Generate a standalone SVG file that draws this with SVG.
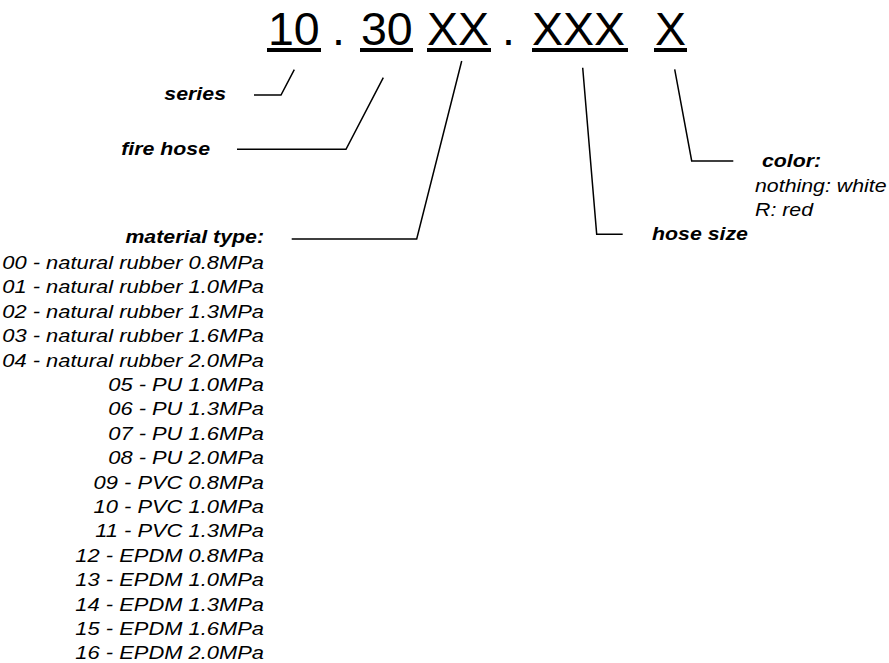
<svg xmlns="http://www.w3.org/2000/svg" width="889" height="663" viewBox="0 0 889 663">
<style>
text{font-family:"Liberation Sans",Arial,Helvetica,sans-serif;fill:#000}
.code{font-size:46.5px}
.lbl{font-size:18.3px;font-weight:bold;font-style:italic}
.it{font-size:18.3px;font-style:italic}
.li{font-size:18.8px;font-style:italic}
.ul{fill:#000}
.conn{fill:none;stroke:#000;stroke-width:1.5}
</style>
<rect width="889" height="663" fill="#fff"/>
<g id="code">
<text class="code" x="268" y="45">10</text>
<rect class="ul" x="267" y="48" width="54" height="4"/>
<text class="code" x="332" y="45">.</text>
<text class="code" x="361" y="45">30</text>
<rect class="ul" x="360" y="48" width="53" height="4"/>
<text class="code" x="427" y="45">XX</text>
<rect class="ul" x="427" y="48" width="64" height="4"/>
<text class="code" x="502" y="45">.</text>
<text class="code" x="532" y="45">XXX</text>
<rect class="ul" x="532" y="48" width="96" height="4"/>
<text class="code" x="655" y="45">X</text>
<rect class="ul" x="654" y="48" width="33" height="4"/>
</g>
<g id="connectors">
<path class="conn" d="M294.3,69.7 L281,95 L254,95"/>
<path class="conn" d="M383.3,77.7 L346,149.3 L237,149.3"/>
<path class="conn" d="M461.7,61 L416.7,239 L291.7,239"/>
<path class="conn" d="M582.7,67.7 L596.7,234.3 L622.7,234.3"/>
<path class="conn" d="M674.7,69.3 L691.7,161 L733.3,161"/>
</g>
<g id="series" transform="translate(226 0) scale(1.165 1)">
<text class="lbl" x="0" y="100" text-anchor="end">series</text>
</g>
<g id="fire-hose" transform="translate(210 0) scale(1.165 1)">
<text class="lbl" x="0" y="155" text-anchor="end">fire hose</text>
</g>
<g id="material-type" transform="translate(264 0) scale(1.165 1)">
<text class="lbl" x="0" y="243" text-anchor="end">material type:</text>
<text class="li" x="0" y="269" text-anchor="end">00 - natural rubber 0.8MPa</text>
<text class="li" x="0" y="293.4" text-anchor="end">01 - natural rubber 1.0MPa</text>
<text class="li" x="0" y="317.8" text-anchor="end">02 - natural rubber 1.3MPa</text>
<text class="li" x="0" y="342.2" text-anchor="end">03 - natural rubber 1.6MPa</text>
<text class="li" x="0" y="366.6" text-anchor="end">04 - natural rubber 2.0MPa</text>
<text class="li" x="0" y="391" text-anchor="end">05 - PU 1.0MPa</text>
<text class="li" x="0" y="415.4" text-anchor="end">06 - PU 1.3MPa</text>
<text class="li" x="0" y="439.8" text-anchor="end">07 - PU 1.6MPa</text>
<text class="li" x="0" y="464.2" text-anchor="end">08 - PU 2.0MPa</text>
<text class="li" x="0" y="488.6" text-anchor="end">09 - PVC 0.8MPa</text>
<text class="li" x="0" y="513" text-anchor="end">10 - PVC 1.0MPa</text>
<text class="li" x="0" y="537.4" text-anchor="end">11 - PVC 1.3MPa</text>
<text class="li" x="0" y="561.8" text-anchor="end">12 - EPDM 0.8MPa</text>
<text class="li" x="0" y="586.2" text-anchor="end">13 - EPDM 1.0MPa</text>
<text class="li" x="0" y="610.6" text-anchor="end">14 - EPDM 1.3MPa</text>
<text class="li" x="0" y="635" text-anchor="end">15 - EPDM 1.6MPa</text>
<text class="li" x="0" y="659.4" text-anchor="end">16 - EPDM 2.0MPa</text>
</g>
<g id="hose-size" transform="translate(652 0) scale(1.165 1)">
<text class="lbl" x="0" y="240">hose size</text>
</g>
<g id="color">
<g transform="translate(762 0) scale(1.165 1)">
<text class="lbl" x="0" y="167">color:</text>
</g>
<g transform="translate(755 0) scale(1.165 1)">
<text class="it" x="0" y="192">nothing: white</text>
<text class="it" x="0" y="216">R: red</text>
</g>
</g>
</svg>
